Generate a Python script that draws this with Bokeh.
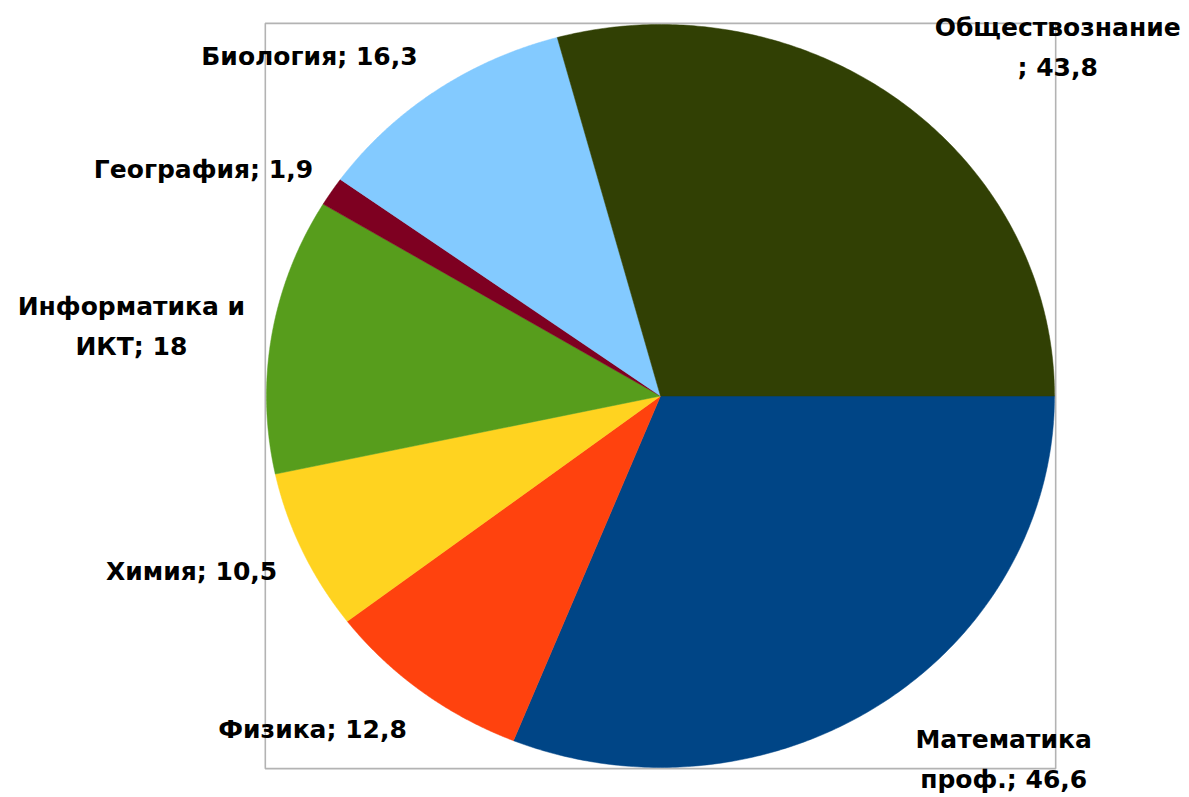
import numpy as np
from bokeh.plotting import figure
from bokeh.models import Range1d, ColumnDataSource
from bokeh.core.properties import value
from bokeh.embed import file_html
from bokeh.resources import INLINE

# ---- data ----
subjects = ["Математика проф.", "Физика", "Химия", "Информатика и ИКТ",
            "География", "Биология", "Обществознание"]
values = [46.6, 12.8, 10.5, 18, 1.9, 16.3, 43.8]
label_texts = ["Математика\nпроф.; 46,6", "Физика; 12,8", "Химия; 10,5",
               "Информатика и\nИКТ; 18", "География; 1,9", "Биология; 16,3",
               "Обществознание\n; 43,8"]
colors = ["#004586", "#ff420e", "#ffd320", "#579d1c", "#7e0021", "#83caff", "#314004"]

# ---- layout (label anchor positions in pie units) ----
label_x = [0.871, -0.883, -1.190, -1.343, -1.160, -0.891, 1.008]
label_y = [-0.978, -0.898, -0.472, 0.187, 0.610, 0.914, 0.938]

W, H = 1185, 795
p = figure(width=W, height=H, output_backend="svg", toolbar_location=None,
           x_range=Range1d(-1.6751, 1.3325), y_range=Range1d(-1.0754, 1.0646),
           min_border=0, outline_line_color=None)
p.axis.visible = False
p.grid.visible = False

# frame box around pie
p.quad(left=[-1.003], right=[1.003], bottom=[-1.003], top=[1.003],
       fill_color=None, line_color="#b3b3b3", line_width=1.6)

total = sum(values)
xs, ys = [], []
start = 0.0
for v in values:
    ang = v / total * 2 * np.pi
    t = np.linspace(start, start + ang, 200)
    xs.append(np.concatenate([[0.0], np.cos(-t), [0.0]]))
    ys.append(np.concatenate([[0.0], np.sin(-t), [0.0]]))
    start += ang

src = ColumnDataSource(dict(xs=xs, ys=ys, color=colors, name=subjects))
p.patches("xs", "ys", source=src, fill_color="color", line_color="color", line_width=0.5)

lsrc = ColumnDataSource(dict(x=label_x, y=label_y, text=label_texts))
p.text("x", "y", text="text", source=lsrc, text_align="center", text_baseline="middle",
       text_font=value("DejaVu Sans"), text_font_style="bold", text_font_size="25px",
       text_color="#000000", text_line_height=1.375)

open("out.html", "w").write(file_html(p, INLINE))
